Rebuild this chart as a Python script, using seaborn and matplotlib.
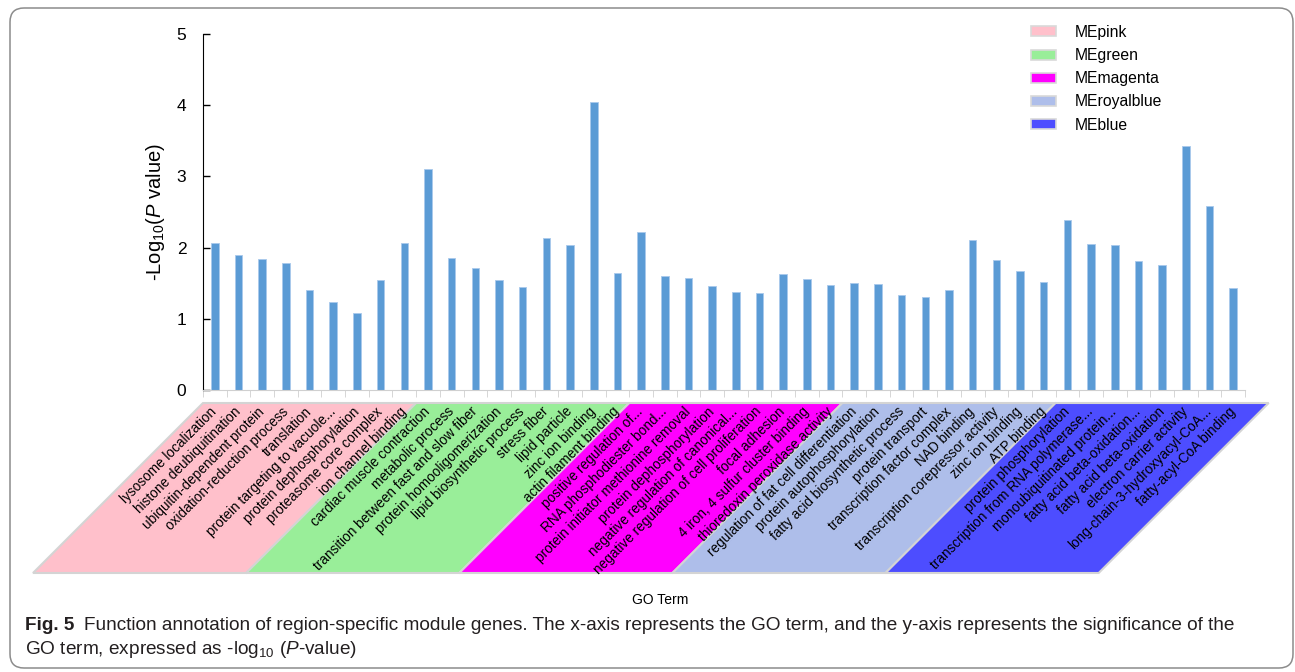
import numpy as np
import pandas as pd
import matplotlib
matplotlib.use("Agg")
import matplotlib.pyplot as plt
import seaborn as sns
from matplotlib.patches import Polygon, Patch, FancyBboxPatch
from matplotlib.transforms import IdentityTransform

# GO terms, in plotting order (grouped by module)
terms = [
    "lysosome localization", "histone deubiquitination", "ubiquitin-dependent protein",
    "oxidation-reduction process", "translation", "protein targeting to vacuole...",
    "protein dephosphorylation", "proteasome core complex", "ion channel binding",
    "cardiac muscle contraction", "metabolic process", "transition between fast and slow fiber",
    "protein homooligomerization", "lipid biosynthetic process", "stress fiber",
    "lipid particle", "zinc ion binding", "actin filament binding",
    "positive regulation of...", "RNA phosphodiester bond...", "protein initiator methionine removal",
    "protein dephosphorylation", "negative regulation of canonical...",
    "negative regulation of cell proliferation", "focal adhesion",
    "4 iron, 4 sulfur cluster binding", "thioredoxin peroxidase activity",
    "regulation of fat cell differentiation", "protein autophosphorylation",
    "fatty acid biosynthetic process", "protein transport", "transcription factor complex",
    "NAD binding", "transcription corepressor activity", "zinc ion binding", "ATP binding",
    "protein phosphorylation", "transcription from RNA polymerase...",
    "monoubiquitinated protein...", "fatty acid beta-oxidation...", "fatty acid beta-oxidation",
    "electron carrier activity", "long-chain-3-hydroxyacyl-CoA...", "fatty-acyl-CoA binding",
]

neg_log_p = [
    2.06, 1.90, 1.84, 1.78, 1.41, 1.24, 1.08, 1.55, 2.06,
    3.11, 1.86, 1.71, 1.55, 1.44, 2.14, 2.03, 4.05, 1.64,
    2.22, 1.60, 1.57, 1.46, 1.37, 1.36, 1.63, 1.56, 1.48,
    1.50, 1.49, 1.34, 1.31, 1.41, 2.10, 1.82, 1.67, 1.52,
    2.39, 2.05, 2.03, 1.81, 1.75, 3.42, 2.58, 1.43,
]

modules = ["MEpink", "MEgreen", "MEmagenta", "MEroyalblue", "MEblue"]
module_sizes = [9, 9, 9, 9, 8]
module_colors = ["#FFC0CB", "#99EE99", "#FF00FF", "#AEBEEA", "#4D4DFF"]

W, H = 1295, 672
plt.rcParams["font.family"] = ["Liberation Sans", "DejaVu Sans"]
plt.rcParams["mathtext.fontset"] = "custom"
plt.rcParams["mathtext.rm"] = "Liberation Sans"
plt.rcParams["mathtext.it"] = "Liberation Sans:italic"
plt.rcParams["mathtext.bf"] = "Liberation Sans:bold"

df = pd.DataFrame({"pos": np.arange(len(terms)), "term": terms, "value": neg_log_p})

fig = plt.figure(figsize=(W / 100, H / 100), dpi=100)
ax = fig.add_axes([203 / W, 1 - 390 / H, (1245 - 203) / W, (390 - 34) / H])

sns.barplot(data=df, x="pos", y="value", color="#5B9BD5", saturation=1,
            width=0.32, edgecolor="#a9c9ec", linewidth=0.6, ax=ax)

ax.set_xlim(-0.5, len(terms) - 0.5)
ax.set_ylim(0, 5)
ax.set_yticks(range(6))
ax.tick_params(axis="y", direction="in", length=5, width=1, color="black",
               labelsize=12.5, pad=12)

ax.set_xticks(df["pos"])
ax.set_xticklabels(terms)
ax.set_xticks(np.arange(-0.5, len(terms), 1), minor=True)
ax.tick_params(axis="x", which="major", length=0, pad=14, labelsize=9.8)
ax.tick_params(axis="x", which="minor", length=5, color="#d0d0d0", direction="out")
plt.setp(ax.get_xticklabels(), rotation=45, ha="right", va="center", rotation_mode="anchor")

for s in ["top", "right"]:
    ax.spines[s].set_visible(False)
ax.spines["left"].set_color("black")
ax.spines["bottom"].set_color("#d0d0d0")

ax.set_ylabel(r"-Log$_{10}$($\mathit{P}$ value)", fontsize=14.5)
ax.yaxis.set_label_coords(-0.035, 0.5)
ax.set_xlabel("GO Term", fontsize=10)
ax.xaxis.set_label_coords((660 - 203) / (1245 - 203), (390 - 600) / (390 - 34))
ax.xaxis.label.set_va("center")

# slanted module bands under the labels
band_top, band_bot = H - 403, H - 573
shear = band_top - band_bot
span = max(module_sizes)
start = 0
handles = []
for name, n, col in zip(modules, module_sizes, module_colors):
    xl = ax.transData.transform((start - 0.5, 0))[0]
    xr = ax.transData.transform((start - 0.5 + span, 0))[0]
    pts = [(xl, band_top), (xr, band_top), (xr - shear, band_bot), (xl - shear, band_bot)]
    fig.add_artist(Polygon(pts, closed=True, facecolor=col, edgecolor="#d4d4d4",
                           linewidth=1.5, transform=IdentityTransform(), zorder=-1))
    handles.append(Patch(facecolor=col, edgecolor="#d9d9d9", linewidth=1.2, label=name))
    start += n

fig.legend(handles=handles, loc="upper left", bbox_to_anchor=(1031 / W, 1 - 25 / H),
           frameon=False, fontsize=11.3, handlelength=1.6, handleheight=0.6,
           handletextpad=1.2, labelspacing=0.52, borderpad=0, borderaxespad=0)

# caption
cap_color = "#231f20"
t1 = fig.text(25 / W, 1 - 625 / H, "Fig. 5", fontsize=13.6, fontweight="bold",
              color=cap_color, va="center")
fig.canvas.draw()
bb = t1.get_window_extent()
fig.text((bb.x1 + 10) / W, 1 - 625 / H,
         "Function annotation of region-specific module genes. The x-axis represents the GO term, "
         "and the y-axis represents the significance of the",
         fontsize=13.7, color=cap_color, va="center")
fig.text(25 / W, 1 - 649 / H, r"GO term, expressed as -log$_{10}$ ($\mathit{P}$-value)",
         fontsize=13.7, color=cap_color, va="center")

# rounded outer frame
fig.add_artist(FancyBboxPatch((10, 4), W - 12, H - 12,
                              boxstyle="round,pad=0,rounding_size=14",
                              facecolor="none", edgecolor="#8c8c8c", linewidth=1.1,
                              transform=IdentityTransform()))

fig.savefig("out.png", dpi=100)
